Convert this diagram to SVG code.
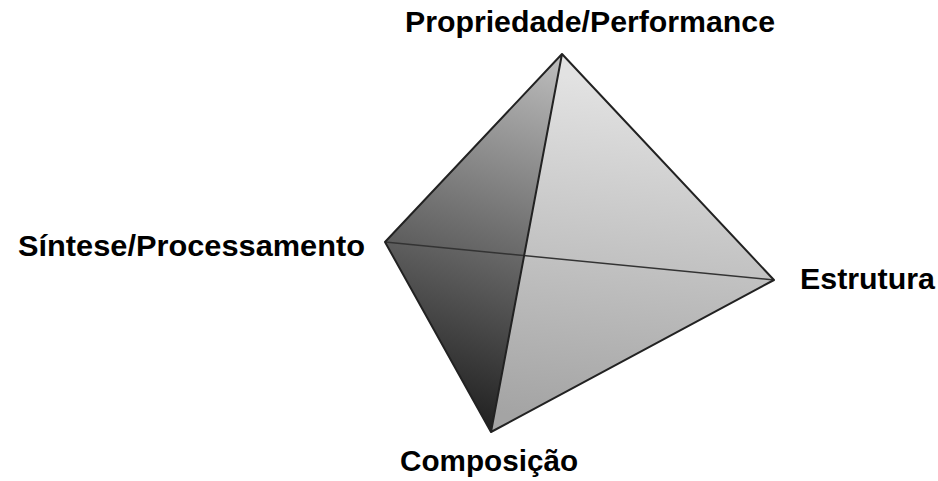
<svg xmlns="http://www.w3.org/2000/svg" width="938" height="481" viewBox="0 0 938 481">
<defs>
<linearGradient id="gL" x1="560" y1="60" x2="440" y2="420" gradientUnits="userSpaceOnUse">
<stop offset="0" stop-color="#bcbcbc"/>
<stop offset="0.45" stop-color="#747474"/>
<stop offset="1" stop-color="#1e1e1e"/>
</linearGradient>
<linearGradient id="gR" x1="600" y1="80" x2="560" y2="420" gradientUnits="userSpaceOnUse">
<stop offset="0" stop-color="#e2e2e2"/>
<stop offset="1" stop-color="#a4a4a4"/>
</linearGradient>
<style>
.lbl{font-family:"Liberation Sans",Arial,sans-serif;font-weight:bold;font-size:29px;fill:#000}
.edge{fill:none;stroke:#222;stroke-width:2;stroke-linejoin:round}
.back{fill:none;stroke:#333;stroke-width:1.5}
</style>
</defs>
<g id="faces">
<polygon id="face-left" points="562,54 385,242 491,432" fill="url(#gL)"/>
<polygon id="face-right" points="562,54 774,280 491,432" fill="url(#gR)"/>
</g>
<g id="connectors">
<line class="back" x1="385" y1="242" x2="774" y2="280"/>
<polyline class="edge" points="562,54 385,242 491,432 774,280 562,54 491,432"/>
</g>
<g id="node-top"><text class="lbl" x="405" y="32" textLength="370" lengthAdjust="spacingAndGlyphs">Propriedade/Performance</text></g>
<g id="node-left"><text class="lbl" x="18" y="256" textLength="347" lengthAdjust="spacingAndGlyphs">Síntese/Processamento</text></g>
<g id="node-right"><text class="lbl" x="800" y="289" textLength="135" lengthAdjust="spacingAndGlyphs">Estrutura</text></g>
<g id="node-bottom"><text class="lbl" x="400" y="471" textLength="178" lengthAdjust="spacingAndGlyphs">Composição</text></g>
</svg>
